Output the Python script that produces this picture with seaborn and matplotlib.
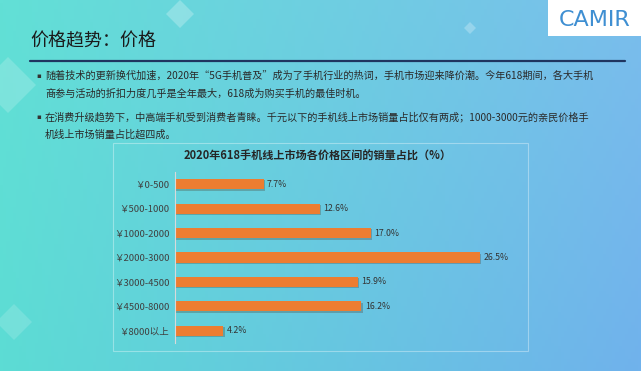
import numpy as np
import pandas as pd
import matplotlib
matplotlib.use('Agg')
import matplotlib.pyplot as plt
import matplotlib.patheffects as pe
from matplotlib.patches import Rectangle, Polygon
import seaborn as sns

# 数据
price_ranges = ['￥0-500', '￥500-1000', '￥1000-2000', '￥2000-3000',
                '￥3000-4500', '￥4500-8000', '￥8000以上']
share = [7.7, 12.6, 17.0, 26.5, 15.9, 16.2, 4.2]

page_title = '价格趋势：价格'
chart_title = '2020年618手机线上市场各价格区间的销量占比（%）'
bullets = [
    ['随着技术的更新换代加速，2020年“5G手机普及”成为了手机行业的热词，手机市场迎来降价潮。今年618期间，各大手机',
     '商参与活动的折扣力度几乎是全年最大，618成为购买手机的最佳时机。'],
    ['在消费升级趋势下，中高端手机受到消费者青睐。千元以下的手机线上市场销量占比仅有两成；1000-3000元的亲民价格手',
     '机线上市场销量占比超四成。'],
]

sns.set_theme(style='white')
plt.rcParams['font.family'] = ['Noto Sans CJK SC', 'DejaVu Sans']

W, H = 641, 371
fig = plt.figure(figsize=(W / 100, H / 100), dpi=100)

# 背景渐变
bg = fig.add_axes([0, 0, 1, 1])
tl = np.array([98, 224, 214]); tr = np.array([122, 190, 236])
bl = np.array([92, 220, 212]); br = np.array([112, 178, 236])
xs = np.linspace(0, 1, 200)[None, :, None]
ys = np.linspace(0, 1, 120)[:, None, None]
grad = (1 - ys) * ((1 - xs) * tl + xs * tr) + ys * ((1 - xs) * bl + xs * br)
bg.imshow(grad / 255, extent=[0, W, H, 0], aspect='auto')
bg.set_xlim(0, W); bg.set_ylim(H, 0)
bg.axis('off')

# 装饰菱形
for cx, cy, r, a in [(180, 14, 14, 0.25), (8, 85, 28, 0.18), (470, 28, 6, 0.25), (14, 322, 18, 0.15)]:
    bg.add_patch(Polygon([(cx, cy - r), (cx + r, cy), (cx, cy + r), (cx - r, cy)],
                         closed=True, facecolor='white', alpha=a, lw=0))

# 标题和分割线
bg.text(30, 41, page_title, fontsize=13, color='#1a1a1a', va='center', ha='left')
bg.plot([30, 625], [61, 61], color='#1f3560', lw=1.6)

# 要点文字
y = 76
for para in bullets:
    bg.text(36, y, '▪', fontsize=5, color='#333333', va='center', family=['DejaVu Sans'])
    for line in para:
        bg.text(45, y, line, fontsize=7.3, color='#2a2a2a', va='center', ha='left')
        y += 18
    y += 5

# Logo
bg.add_patch(Rectangle((548, 0), 93, 36, facecolor='white', lw=0))
bg.text(595, 20, 'CAMIR', fontsize=16, color='#3f8fd2', ha='center', va='center',
        family=['DejaVu Sans'])

# 图表框
bg.add_patch(Rectangle((113, 143), 415, 208, facecolor='none',
                       edgecolor='white', alpha=0.35, lw=0.8))
bg.text(318, 156, chart_title, fontsize=8, fontweight='bold', color='#262626',
        ha='center', va='center')

# 条形图
df = pd.DataFrame({'range': price_ranges, 'share': share})
ax = fig.add_axes([175 / W, 28 / H, 345 / W, 171 / H])
ax.patch.set_alpha(0)
sns.barplot(data=df, y='range', x='share', orient='h', color='#ED7D31',
            width=0.42, saturation=1, linewidth=0, edgecolor='none', ax=ax)
for bar in ax.patches:
    bar.set_path_effects([pe.SimplePatchShadow(offset=(1, -1), alpha=0.25), pe.Normal()])
for i, v in enumerate(share):
    ax.text(v + 0.3, i, f'{v:.1f}%', fontsize=6.3, color='#333333', va='center', ha='left')

ax.set_xlim(0, 30)
ax.set_xlabel('')
ax.set_ylabel('')
ax.set_xticks([])
ax.tick_params(axis='y', labelsize=6.8, labelcolor='#404040', length=0, pad=4)
for s in ['top', 'right', 'bottom']:
    ax.spines[s].set_visible(False)
ax.spines['left'].set_color('#d9d9d9')
ax.spines['left'].set_linewidth(0.8)

fig.savefig('out.png', dpi=100)
